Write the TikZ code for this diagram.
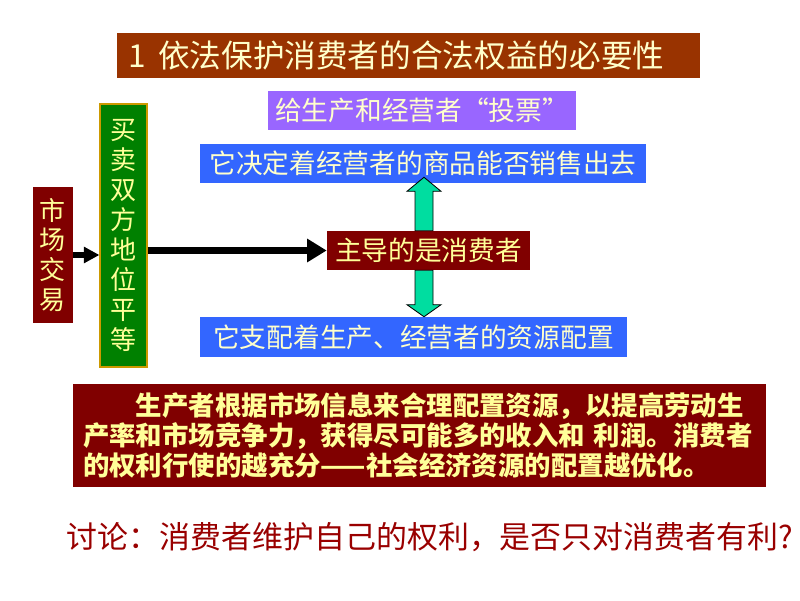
\documentclass[tikz,border=0pt]{standalone}
\usepackage{fontspec}
\setmainfont{Noto Sans CJK SC}
\usetikzlibrary{arrows.meta,calc}
\definecolor{titlebrown}{HTML}{993300}
\definecolor{votepurple}{HTML}{9966FF}
\definecolor{bandblue}{HTML}{3366FF}
\definecolor{darkred}{HTML}{800000}
\definecolor{fairgreen}{HTML}{008000}
\definecolor{goldedge}{HTML}{CC9900}
\definecolor{mint}{HTML}{00DDA0}
\definecolor{cream}{HTML}{FFFFCC}
\definecolor{lemon}{HTML}{FFFF99}
\definecolor{askred}{HTML}{990000}
\begin{document}
\begin{tikzpicture}[
  band/.style={inner sep=0pt, minimum height=0.975cm, text=cream, font=\fontsize{19}{22}\selectfont},
  upright/.style={inner sep=0pt, text=lemon, align=center, font=\fontsize{18.5}{21.3}\selectfont},
  thickarrow/.style={line width=4.3pt, -{Triangle[length=14pt,width=16pt]}},
  mintarrow/.style={fill=mint, draw=black, line width=0.6pt}
]
\useasboundingbox (0,0) rectangle (20,15);
% title bar
\node[band, fill=titlebrown, minimum height=1.125cm, inner xsep=0.275cm, text width=14.025cm, align=left, font=\fontsize{22.5}{26}\selectfont] (title) at (10.2125,13.6125) {1\hspace{0.4em}依法保护消费者的合法权益的必要性};
\node[band, fill=votepurple, anchor=west, minimum width=7.2cm, inner xsep=0.175cm] (vote) at (6.7,12.2375) {给生产和经营者“投票”};
% middle column
\node[band, fill=bandblue, minimum width=11.15cm] (sells) at (10.575,10.9125) {它决定着经营者的商品能否销售出去};
\node[band, fill=darkred, text=lemon, minimum width=5.075cm] (lead) at (10.7125,8.7375) {主导的是消费者};
\node[band, fill=bandblue, minimum width=10.675cm, minimum height=1cm] (alloc) at (10.3375,6.575) {它支配着生产、经营者的资源配置};
% left column
\node[upright, fill=fairgreen, draw=goldedge, line width=0.8pt, minimum width=1.175cm, minimum height=6.575cm] (equal) at (3.0875,9.1125) {买\\卖\\双\\方\\地\\位\\平\\等};
\node[upright, fill=darkred, minimum width=1cm, minimum height=3.4cm] (market) at (1.325,8.625) {市\\场\\交\\易};
% arrows
\draw[thickarrow, -{Triangle[length=11pt,width=11pt]}] (market.east) -- (market.east -| equal.west);
\draw[thickarrow] (lead.west -| equal.east) -- (lead.west);
\coordinate (axis) at (10.6,0);
\draw[mintarrow] ($(axis |- lead.north)+(-0.225,0)$) -- ($(axis |- sells.south)+(-0.225,-0.2)$) -- ($(axis |- sells.south)+(-0.425,-0.2)$) -- ($(axis |- sells.south)+(0,0.15)$) -- ($(axis |- sells.south)+(0.425,-0.2)$) -- ($(axis |- sells.south)+(0.225,-0.2)$) -- ($(axis |- lead.north)+(0.225,0)$) -- cycle;
\draw[mintarrow] ($(axis |- lead.south)+(-0.225,0)$) -- ($(axis |- alloc.north)+(-0.225,0.3)$) -- ($(axis |- alloc.north)+(-0.425,0.3)$) -- (axis |- alloc.north) -- ($(axis |- alloc.north)+(0.425,0.3)$) -- ($(axis |- alloc.north)+(0.225,0.3)$) -- ($(axis |- lead.south)+(0.225,0)$) -- cycle;
% explanation and question
\node[band, fill=darkred, text=lemon, inner xsep=0.25cm, text width=16.825cm, minimum height=2.575cm, align=left, font=\bfseries\fontsize{18.8}{21.3}\selectfont] (note) at (10.4875,4.1125) {\hspace*{2em}生产者根据市场信息来合理配置资源，以提高劳动生\\产率和市场竞争力，获得尽可能多的收入和~利润。消费者\\的权利行使的越充分------社会经济资源的配置越优化。};
\node[text=askred, font=\fontsize{22}{26}\selectfont, inner sep=0pt] (ask) at (10.75,1.575) {讨论：消费者维护自己的权利，是否只对消费者有利?};
\end{tikzpicture}
\end{document}
